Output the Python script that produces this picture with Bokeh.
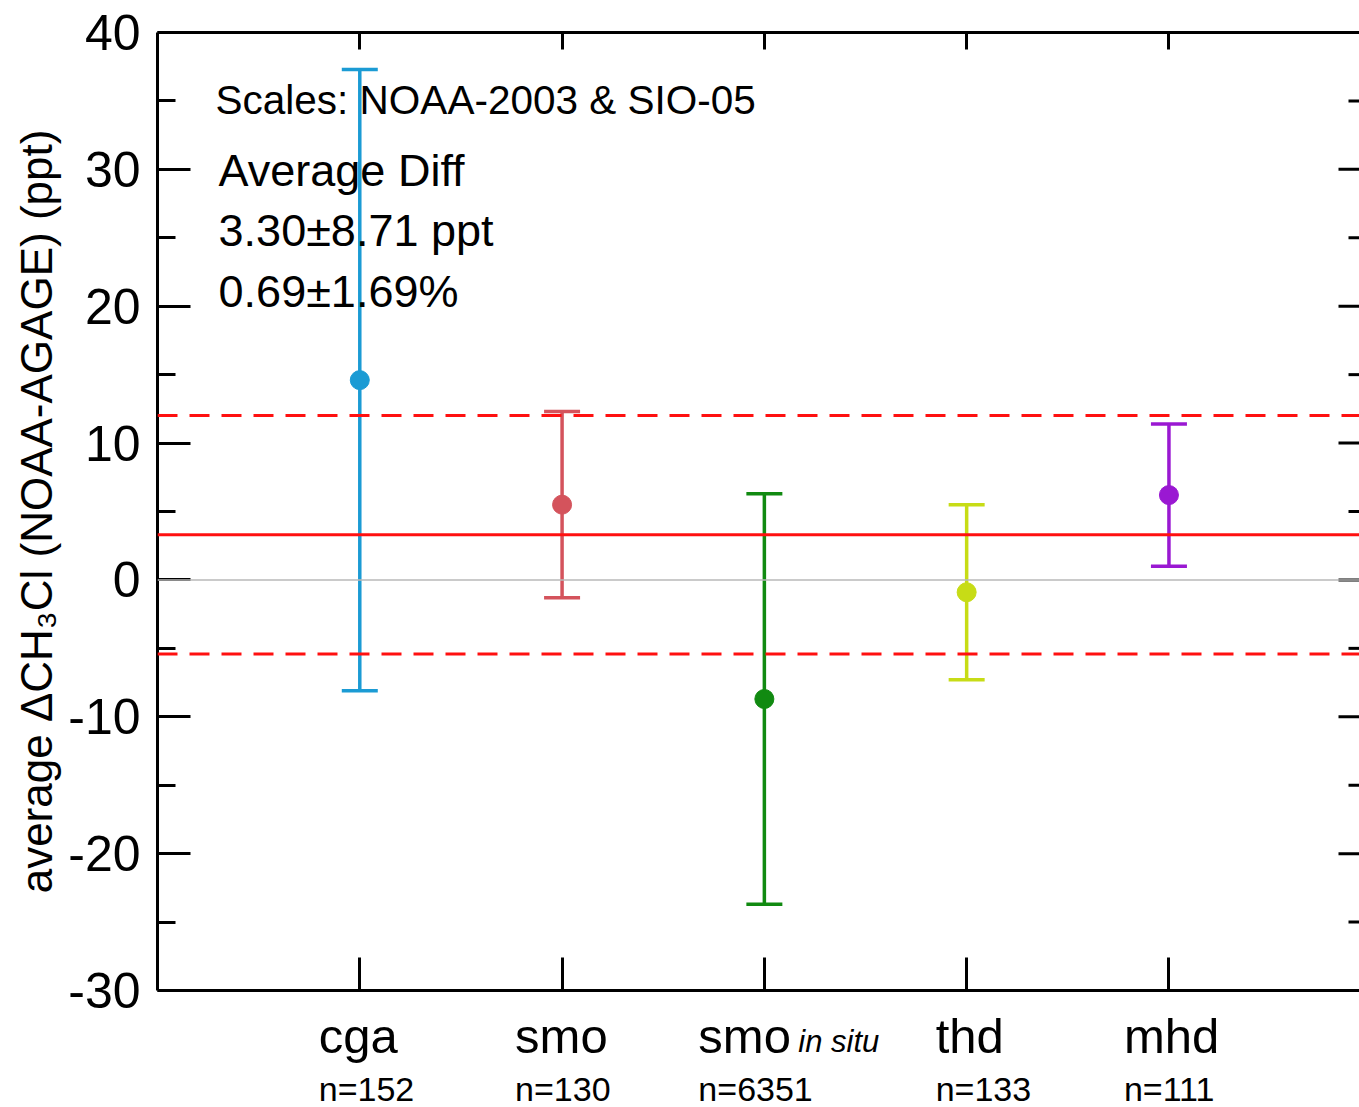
from bokeh.plotting import figure
from bokeh.layouts import column
from bokeh.models import Range1d, FixedTicker, LinearAxis, Span, Label, ColumnDataSource
from bokeh.core.properties import value
from bokeh.embed import file_html
from bokeh.resources import INLINE

# NOAA minus AGAGE CH3Cl differences per site (ppt)
sites = ["cga", "smo", "smo", "thd", "mhd"]
site_notes = ["", "", "in situ", "", ""]
counts = [152, 130, 6351, 133, 111]
mean_diff = [14.6, 5.5, -8.7, -0.9, 6.2]
sd_diff = [22.7, 6.8, 15.0, 6.4, 5.2]
colors = ["#1b9bd4", "#d4535c", "#118a11", "#c7dc16", "#9a18d2"]

# overall mean difference and its spread
avg_diff = 3.30
avg_sd = 8.71
avg_pct = 0.69
avg_pct_sd = 1.69

y_ticks = [-30, -20, -10, 0, 10, 20, 30, 40]
y_minor = [-25, -15, -5, 5, 15, 25, 35]

xs = list(range(1, len(sites) + 1))
src = ColumnDataSource(dict(
    x=xs,
    mean=mean_diff,
    upper=[m + s for m, s in zip(mean_diff, sd_diff)],
    lower=[m - s for m, s in zip(mean_diff, sd_diff)],
    color=colors,
))

FONT = "Liberation Sans"
X_RANGE = Range1d(0, 5.942)
TOP_H = 1010

p = figure(width=1359, height=TOP_H,
           x_range=X_RANGE, y_range=Range1d(-30, 40),
           x_axis_type=None, y_axis_type=None,
           output_backend="svg", toolbar_location=None,
           min_border_left=157, min_border_right=0,
           min_border_top=32, min_border_bottom=TOP_H - 990)
p.outline_line_color = None
p.background_fill_color = "white"
p.border_fill_color = "white"
p.xgrid.visible = False
p.ygrid.visible = False

# left axis with labels
yax = LinearAxis(ticker=FixedTicker(ticks=y_ticks, minor_ticks=y_minor),
                 axis_line_width=3, axis_line_color="black",
                 major_tick_line_width=3, minor_tick_line_width=3,
                 major_tick_in=33, major_tick_out=0,
                 minor_tick_in=18, minor_tick_out=0,
                 major_label_text_font=FONT,
                 major_label_text_font_size="50px",
                 major_label_text_color="black",
                 major_label_standoff=17,
                 major_label_overrides={t: str(t) for t in y_ticks},
                 axis_label="average \u0394CH\u2083Cl (NOAA-AGAGE) (ppt)",
                 axis_label_text_font=FONT,
                 axis_label_text_font_size="44px",
                 axis_label_text_font_style="normal",
                 axis_label_text_color="black",
                 axis_label_standoff=4)
p.add_layout(yax, "left")


def site_tick_axis(tick_in):
    """Frame edge with inward, unlabelled ticks at the sites."""
    return LinearAxis(ticker=FixedTicker(ticks=[], minor_ticks=xs),
                      axis_line_color="black", axis_line_width=3,
                      minor_tick_line_width=3, minor_tick_line_color="black",
                      minor_tick_in=tick_in, minor_tick_out=0)


p.add_layout(site_tick_axis(17), "above")
p.add_layout(site_tick_axis(33), "below")

# inward ticks on the right edge (half of each dash falls outside the frame)
edge = ColumnDataSource(dict(x=[X_RANGE.end] * len(y_ticks), y=y_ticks))
edge_minor = ColumnDataSource(dict(x=[X_RANGE.end] * len(y_minor), y=y_minor))
p.scatter(x="x", y="y", marker="dash", size=42, line_width=3,
          line_color="black", source=edge)
p.scatter(x="x", y="y", marker="dash", size=22, line_width=3,
          line_color="black", source=edge_minor)

# reference lines
p.add_layout(Span(location=0, dimension="width", line_color="#b8b8b8", line_width=1.5))
p.add_layout(Span(location=avg_diff, dimension="width", line_color="#ff1010", line_width=3))
for loc in (avg_diff + avg_sd, avg_diff - avg_sd):
    p.add_layout(Span(location=loc, dimension="width", line_color="#ff1010",
                      line_width=3, line_dash="20 12"))

# error bars with caps and mean markers
p.segment(x0="x", y0="lower", x1="x", y1="upper", line_color="color",
          line_width=3.5, source=src)
p.scatter(x="x", y="upper", marker="dash", size=36, line_color="color",
          line_width=3.5, source=src)
p.scatter(x="x", y="lower", marker="dash", size=36, line_color="color",
          line_width=3.5, source=src)
p.scatter(x="x", y="mean", marker="circle", size=19, fill_color="color",
          line_color="color", source=src)

# summary text
p.add_layout(Label(x=0.287, y=35.04, text="Scales: NOAA-2003 & SIO-05",
                   text_font=FONT, text_font_size="40.5px",
                   text_baseline="middle", text_color="black"))
summary = ["Average Diff",
           f"{avg_diff:.2f}\u00b1{avg_sd:.2f} ppt",
           f"{avg_pct:.2f}\u00b1{avg_pct_sd:.2f}%"]
for line, yy in zip(summary, [29.92, 25.54, 21.08]):
    p.add_layout(Label(x=0.302, y=yy, text=line,
                       text_font=FONT, text_font_size="45px",
                       text_baseline="middle", text_color="black"))

# strip under the axis with site names and sample counts
# (y measured in pixels downward from the top of the strip)
STRIP_H = 1107 - TOP_H
q = figure(width=1359, height=STRIP_H,
           x_range=X_RANGE, y_range=Range1d(STRIP_H, 0),
           x_axis_type=None, y_axis_type=None,
           output_backend="svg", toolbar_location=None,
           min_border_left=157, min_border_right=0,
           min_border_top=0, min_border_bottom=0)
q.outline_line_color = None
q.background_fill_color = "white"
q.border_fill_color = "white"
q.xgrid.visible = False
q.ygrid.visible = False

name_shift = [-41, -47, -66, -31, -45]
names = ColumnDataSource(dict(x=xs, text=sites, dx=name_shift,
                              n=[f"n={c}" for c in counts]))
q.text(x="x", y=1035 - TOP_H, text="text", x_offset="dx", source=names,
       text_font=value(FONT), text_font_size=value("49px"),
       text_align="left", text_baseline="middle", text_color="black")
q.text(x="x", y=1088 - TOP_H, text="n", x_offset="dx", source=names,
       text_font=value(FONT), text_font_size="34px",
       text_align="left", text_baseline="middle", text_color="black")

note_x = [xi for xi, nt in zip(xs, site_notes) if nt]
note_t = [nt for nt in site_notes if nt]
note_dx = [dx + 100 for dx, nt in zip(name_shift, site_notes) if nt]
q.text(x=note_x, y=1041 - TOP_H, text=note_t, x_offset=note_dx,
       text_font=value(FONT), text_font_size="31px", text_font_style="italic",
       text_align="left", text_baseline="middle", text_color="black")

layout = column(p, q, spacing=0)
open("out.html", "w").write(file_html(layout, INLINE))
